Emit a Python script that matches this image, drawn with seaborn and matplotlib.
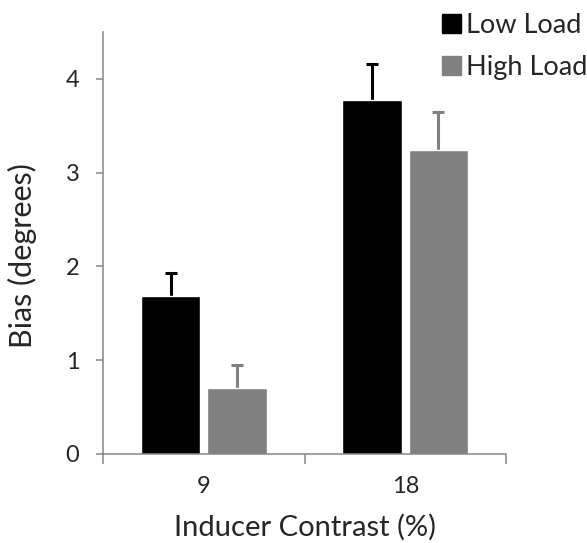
import pandas as pd
import matplotlib
matplotlib.use("Agg")
import matplotlib.pyplot as plt
import seaborn as sns
import numpy as np

# Data
contrasts = ["9", "18"]
loads = ["Low Load", "High Load"]
low_load = [1.68, 3.77]
high_load = [0.70, 3.24]
low_err = [0.25, 0.39]
high_err = [0.25, 0.41]

df = pd.DataFrame({
    "contrast": contrasts * 2,
    "load": [loads[0]] * 2 + [loads[1]] * 2,
    "bias": low_load + high_load,
})
errs = {loads[0]: low_err, loads[1]: high_err}
palette = {loads[0]: "#000000", loads[1]: "#808080"}

sns.set_style("white")
plt.rcParams['font.family'] = ['Lato', 'DejaVu Sans']

fig = plt.figure(figsize=(5.87, 5.43), dpi=100)
ax = fig.add_axes([0.1755, 0.164, 0.8620 - 0.1755, 0.941 - 0.164])

sns.barplot(data=df, x="contrast", y="bias", hue="load", order=contrasts,
            hue_order=loads, palette=palette, width=0.66, gap=0.11,
            errorbar=None, saturation=1, ax=ax, legend=False, zorder=2)

# upward-only error bars
for cont, name in zip(ax.containers, loads):
    xs = [b.get_x() + b.get_width() / 2 for b in cont]
    hs = [b.get_height() for b in cont]
    e = errs[name]
    _, caps, _ = ax.errorbar(xs, hs, yerr=[np.zeros(len(e)), e], fmt="none",
                             ecolor=palette[name], elinewidth=2.2, capsize=4.5,
                             capthick=2.2, zorder=1)
    # hide the caps sitting on top of the bars
    for cap in caps:
        if np.allclose(cap.get_ydata(), hs):
            cap.set_visible(False)

ax.set_xlim(-0.5, 1.5)
ax.set_ylim(0, 4.5)
ax.set_yticks([0, 1, 2, 3, 4])

spine_color = "#868686"
for side in ["top", "right"]:
    ax.spines[side].set_visible(False)
for side in ["left", "bottom"]:
    ax.spines[side].set_color(spine_color)
    ax.spines[side].set_linewidth(1.1)

ax.set_xticks([-0.5, 0.5, 1.5], minor=True)
ax.tick_params(axis="x", which="major", length=0, pad=16, labelsize=17)
ax.tick_params(axis="x", which="minor", length=7, width=1.1, color=spine_color,
               direction="out", bottom=True)
ax.tick_params(axis="y", which="major", length=5, width=1.1, color=spine_color,
               direction="out", left=True, pad=12, labelsize=17)

ax.set_xlabel("Inducer Contrast (%)", fontsize=21)
ax.set_ylabel("Bias (degrees)", fontsize=22)
ax.xaxis.set_label_coords(0.5, -0.142)
ax.yaxis.set_label_coords(-0.165, 0.47)

handles = [plt.Rectangle((0, 0), 1, 1, color=palette[n]) for n in loads]
fig.legend(handles, loads, loc="upper left", bbox_to_anchor=(0.753, 0.976),
           frameon=False, fontsize=19.5, handlelength=0.7, handleheight=0.7,
           handletextpad=0.2, labelspacing=0.64, borderaxespad=0,
           borderpad=0)

plt.savefig("out.png", dpi=100)
